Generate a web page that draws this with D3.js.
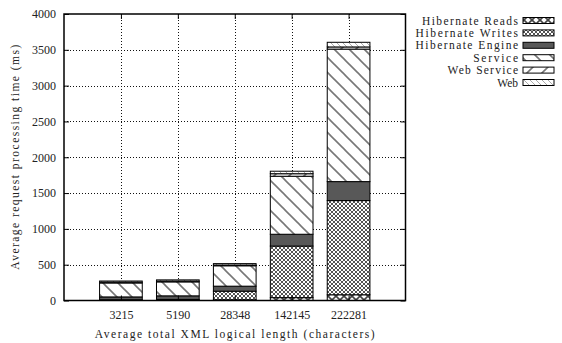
<!DOCTYPE html>
<html>
<head>
<meta charset="utf-8">
<script src="https://cdn.jsdelivr.net/npm/d3@7/dist/d3.min.js"></script>
<style>
  html, body { margin: 0; padding: 0; background: #fff; }
  svg { display: block; }
  text { font-family: "Liberation Serif", "DejaVu Serif", serif; fill: #222; }
</style>
</head>
<body>
<svg id="chart" width="562" height="343"></svg>
<script>
// Categories: average total XML logical length (characters)
const categories = ["3215", "5190", "28348", "142145", "222281"];

// Processing time per layer (ms), stacked bottom to top
const hibernateReads  = [5, 5, 10, 40, 80];
const hibernateWrites = [5, 10, 120, 720, 1315];
const hibernateEngine = [40, 50, 70, 165, 265];
const service         = [195, 195, 285, 810, 1850];
const webService      = [10, 10, 10, 35, 30];
const web             = [17, 18, 20, 35, 65];

const seriesNames = ["Hibernate Reads", "Hibernate Writes", "Hibernate Engine", "Service", "Web Service", "Web"];
const seriesValues = [hibernateReads, hibernateWrites, hibernateEngine, service, webService, web];

const yTicks = [0, 500, 1000, 1500, 2000, 2500, 3000, 3500, 4000];

const svg = d3.select("#chart");
const plot = { left: 64, right: 405.5, top: 14, bottom: 300.5 };

// Fill patterns for each layer
const defs = svg.append("defs");
function hatch(id, size, dirs, stroke, width) {
  const p = defs.append("pattern").attr("id", id)
    .attr("patternUnits", "userSpaceOnUse").attr("width", size).attr("height", size);
  p.append("rect").attr("width", size).attr("height", size).attr("fill", "#fff");
  dirs.forEach(d => {
    const segs = d === "\\"
      ? [[-1, -1, size + 1, size + 1], [-1 - size, -1, 1, size + 1], [size - 1, -1, 2 * size + 1, size + 1]]
      : [[-1, size + 1, size + 1, -1], [-1 - size, size + 1, 1, -1], [size - 1, size + 1, 2 * size + 1, -1]];
    segs.forEach(s => p.append("line")
      .attr("x1", s[0]).attr("y1", s[1]).attr("x2", s[2]).attr("y2", s[3])
      .attr("stroke", stroke).attr("stroke-width", width));
  });
}
hatch("pReads", 8, ["\\", "/"], "#444", 1.6);
hatch("pWrites", 4, ["\\", "/"], "#555", 1);
hatch("pService", 15, ["\\"], "#777", 1.6);
hatch("pWebService", 15, ["/"], "#777", 1.6);
hatch("pWeb", 6, ["\\"], "#aaa", 1);
const fills = ["url(#pReads)", "url(#pWrites)", "#585858", "url(#pService)", "url(#pWebService)", "url(#pWeb)"];

// Scales
const x = d3.scalePoint().domain(categories).range([plot.left, plot.right]).padding(1);
const barW = x.step() * 0.75;
const y = d3.scaleLinear().domain([0, 4000]).range([plot.bottom, plot.top]);

// Grid
const grid = svg.append("g").attr("stroke", "#111").attr("stroke-width", 1).attr("stroke-dasharray", "1,2");
grid.selectAll(".gy").data(yTicks.slice(1, -1)).enter().append("line")
  .attr("x1", plot.left).attr("x2", plot.right)
  .attr("y1", d => Math.round(y(d)) + 0.5).attr("y2", d => Math.round(y(d)) + 0.5);
grid.selectAll(".gx").data(categories).enter().append("line")
  .attr("x1", d => Math.round(x(d)) + 0.5).attr("x2", d => Math.round(x(d)) + 0.5)
  .attr("y1", plot.top).attr("y2", plot.bottom);

// Stacked bars
const rows = categories.map((c, i) => {
  const r = { cat: c };
  seriesNames.forEach((n, k) => r[n] = seriesValues[k][i]);
  return r;
});
const stacked = d3.stack().keys(seriesNames)(rows);
const bars = svg.append("g");
stacked.forEach((layer, k) => {
  bars.selectAll(null).data(layer).enter().append("rect")
    .attr("x", d => x(d.data.cat) - barW / 2)
    .attr("width", barW)
    .attr("y", d => y(d[1]))
    .attr("height", d => y(d[0]) - y(d[1]))
    .attr("fill", fills[k])
    .attr("stroke", "#000").attr("stroke-width", 1);
});

// Axes with inward ticks
const axisFont = g => g.selectAll("text")
  .style("font-family", "'Liberation Serif', serif").style("font-size", "12px").attr("fill", "#222");
svg.append("g").attr("transform", `translate(${plot.left},0)`)
  .call(d3.axisLeft(y).tickValues(yTicks).tickFormat(d3.format("d")).tickSize(-5).tickPadding(8))
  .call(g => g.select(".domain").remove())
  .call(axisFont);
svg.append("g").attr("transform", `translate(${plot.right},0)`)
  .call(d3.axisRight(y).tickValues(yTicks).tickSize(-5).tickFormat(""))
  .call(g => g.select(".domain").remove());
svg.append("g").attr("transform", `translate(0,${plot.bottom})`)
  .call(d3.axisBottom(x).tickSize(-5).tickPadding(10))
  .call(g => g.select(".domain").remove())
  .call(axisFont);
svg.append("g").attr("transform", `translate(0,${plot.top})`)
  .call(d3.axisTop(x).tickSize(-5).tickFormat(""))
  .call(g => g.select(".domain").remove());

// Plot frame
svg.append("rect").attr("x", plot.left).attr("y", plot.top)
  .attr("width", plot.right - plot.left).attr("height", plot.bottom - plot.top)
  .attr("fill", "none").attr("stroke", "#000").attr("stroke-width", 1.5);

// Monospaced-style labels: widen to a fixed advance per character (never squeeze)
function spaced(sel, txt, adv) {
  sel.text(txt);
  const natural = sel.node().getComputedTextLength();
  const target = txt.length * adv;
  if (natural < target) sel.attr("textLength", target).attr("lengthAdjust", "spacing");
  return sel;
}

// Axis titles
spaced(svg.append("text").attr("x", (plot.left + plot.right) / 2).attr("y", 338)
  .attr("text-anchor", "middle").style("font-size", "11.5px"),
  "Average total XML logical length (characters)", 6.22);
spaced(svg.append("text").attr("transform", `translate(19,${(plot.top + plot.bottom) / 2}) rotate(-90)`)
  .attr("text-anchor", "middle").style("font-size", "11.5px"),
  "Average request processing time (ms)", 6.25);

// Legend (top entry = bottom of stack)
const legend = svg.append("g");
seriesNames.forEach((n, k) => {
  const cy = 20.5 + k * 12.4;
  spaced(legend.append("text").attr("x", 518).attr("y", cy + 4)
    .attr("text-anchor", "end").style("font-size", "11.5px"), n, 6.4);
  legend.append("rect").attr("x", 523).attr("y", cy - 3).attr("width", 31).attr("height", 6)
    .attr("fill", fills[k]).attr("stroke", "#000").attr("stroke-width", 1);
});
</script>
</body>
</html>
